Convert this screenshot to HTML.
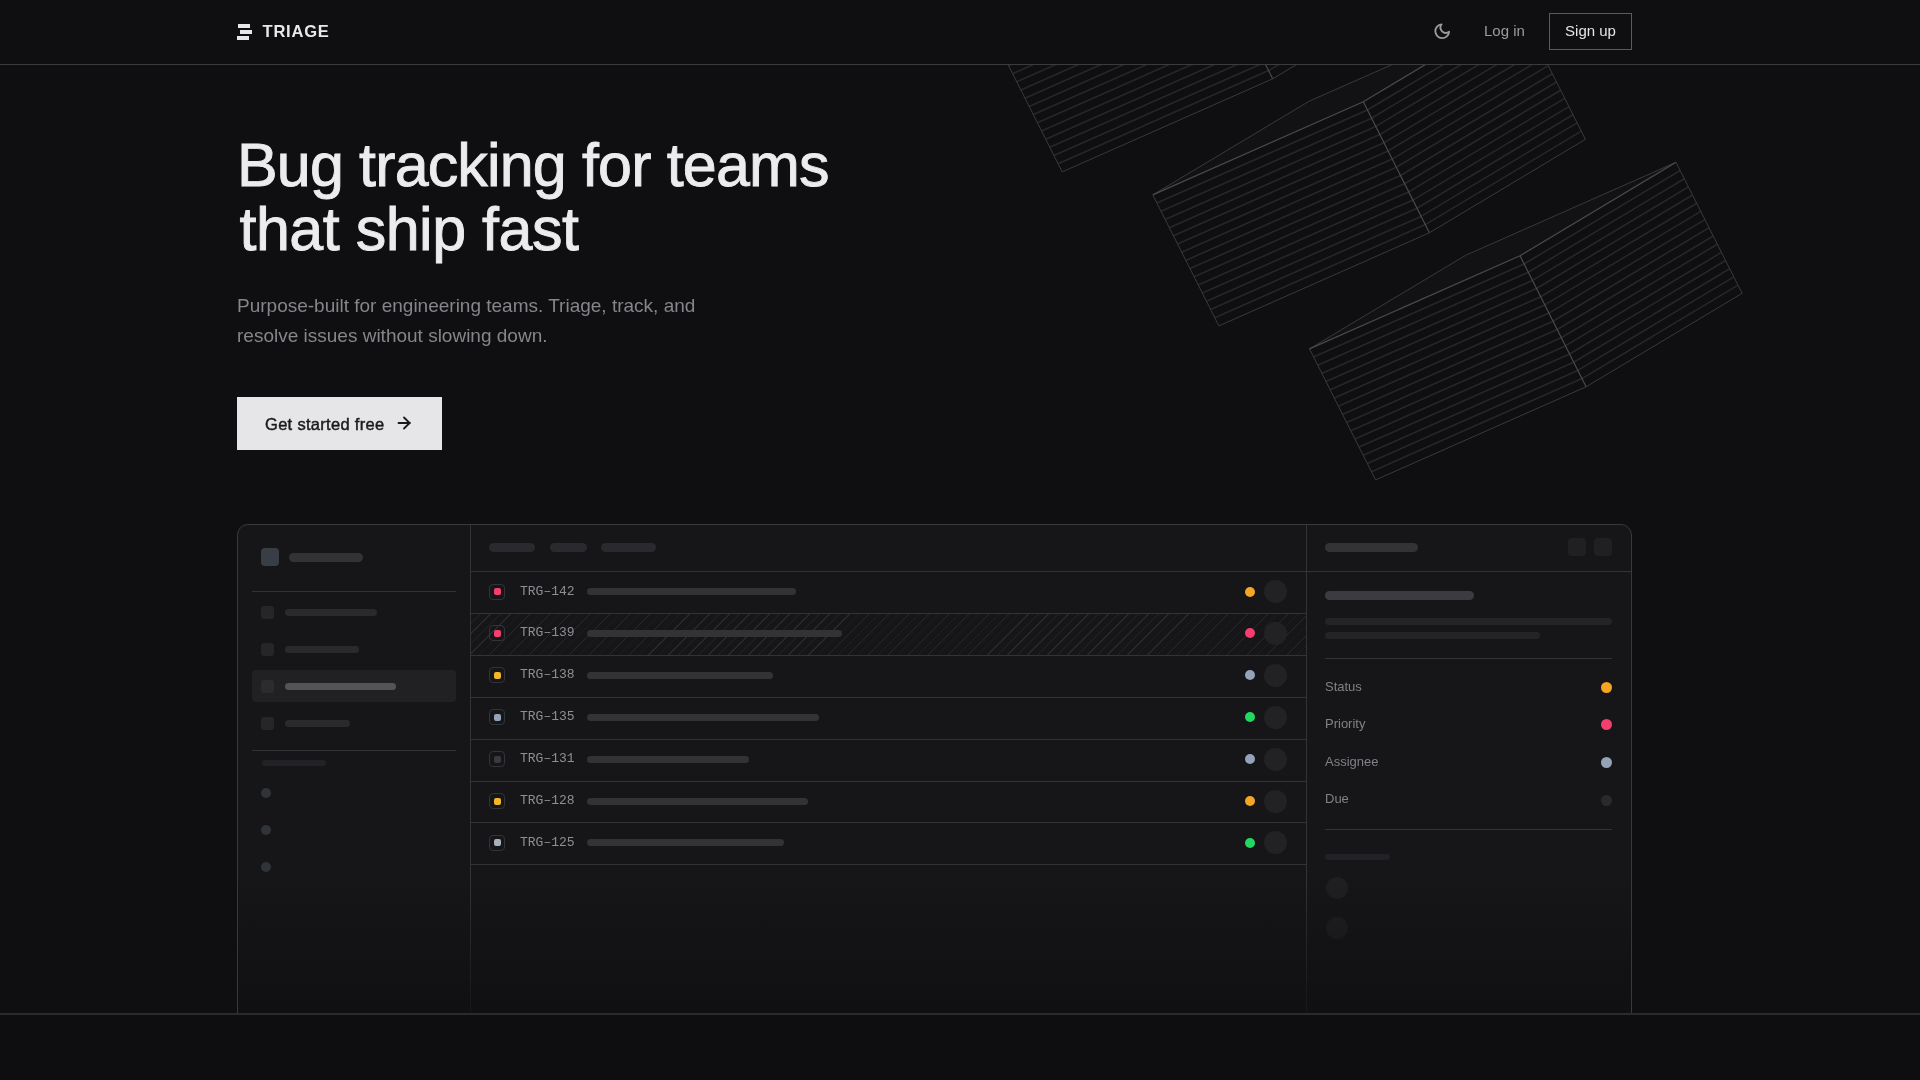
<!DOCTYPE html>
<html><head><meta charset="utf-8">
<style>
*{margin:0;padding:0;box-sizing:border-box}
html,body{width:1920px;height:1080px;overflow:hidden;background:#0f0f11;font-family:"Liberation Sans",sans-serif;color:#e8e8ea}
.abs{position:absolute}
#hdr{position:absolute;left:0;top:0;width:1920px;height:65px;background:#0f0f11;border-bottom:1px solid #3b3b3f;z-index:5}
#boxes{position:absolute;left:0;top:0;width:1920px;height:520px;z-index:1}
.top{fill:#121214}
.face{fill:#0f0f11}
.st{stroke:#27272b;stroke-width:1.6;fill:none}
.e1{stroke:#3a3a3e;stroke-width:1;fill:none}
.e2{stroke:#4a4a4e;stroke-width:1.2;fill:none}
h1{position:absolute;left:237px;top:132.5px;font-size:61px;line-height:64px;font-weight:400;color:#ececee;letter-spacing:-0.85px;white-space:nowrap;z-index:3;-webkit-text-stroke:0.9px #ececee}
.sub{position:absolute;left:237px;top:290.7px;font-size:19px;line-height:30px;color:#85858b;white-space:nowrap;z-index:3}
.cta{position:absolute;left:237px;top:397px;width:205px;height:53px;background:#e6e6e8;color:#1a1a1c;font-size:16px;z-index:3}
.mock{position:absolute;left:237px;top:524px;width:1395px;height:560px;background:#161619;border:1px solid #39393b;border-radius:11px 11px 0 0;z-index:2}
#ml{position:absolute;left:0;top:0;width:1920px;height:1080px;z-index:3}
#ml div{position:absolute}
.bar{border-radius:5px;background:#2a2a2e}
.vl{width:1px;background:#333337}
.hl{height:1px;background:#333337}
.rb{left:471px;width:835px;height:1px;background:#333337}
.hatch{left:471px;width:835px;height:41px;background:repeating-linear-gradient(-45deg,transparent 0 6px,#1e1e21 6px 7px,transparent 7px 13px,#29292c 13px 14.1px)}
.pri{left:489px;width:16px;height:16px;border:1px solid #30353a;border-radius:4px}
.pri i{position:absolute;left:3.5px;top:3.5px;width:7px;height:7px;border-radius:2px}
.tid{left:520px;font-family:"Liberation Mono",monospace;font-size:13px;line-height:18px;color:#8e8e94}
.tb{left:587px;height:7px;background:#333336}
.sdot{left:1244.5px;width:10px;height:10px;border-radius:50%}
.av{left:1263.5px;width:23px;height:23px;border-radius:50%;background:#222225}
.si{left:261px;width:13px;height:13px;border-radius:3px;background:#262629}
.sb{left:285px;height:7px;background:#2a2a2d}
.lbl{left:1325px;font-size:13px;line-height:16px;color:#808086}
.rd{left:1600.5px;width:11px;height:11px;border-radius:50%}
.fade{position:absolute;left:238px;top:880px;width:1393px;height:134px;background:linear-gradient(to bottom,rgba(15,15,17,0),rgba(15,15,17,0.8));z-index:4}
.foot{position:absolute;left:0;top:1013px;width:1920px;height:67px;background:#0e0e10;border-top:2px solid #2b2b2e;z-index:5}
</style></head><body>
<div id="root" style="position:absolute;left:0;top:0;width:1920px;height:1080px;will-change:transform">
<div id="hdr">
  <div class="abs" style="left:238px;top:24px;width:12px;height:4px;background:#e8e8ea"></div>
  <div class="abs" style="left:240px;top:30px;width:12px;height:4px;background:#e8e8ea"></div>
  <div class="abs" style="left:237px;top:36px;width:12px;height:4px;background:#e8e8ea"></div>
  <div class="abs" style="left:262.5px;top:19.9px;font-size:16.5px;font-weight:700;letter-spacing:0.8px;line-height:22px">TRIAGE</div>
  <svg class="abs" style="left:1433px;top:22px" width="18.4" height="18.4" viewBox="0 0 24 24" fill="none" stroke="#9a9a9f" stroke-width="2.4" stroke-linecap="round" stroke-linejoin="round"><path d="M21 12.79A9 9 0 1 1 11.21 3 7 7 0 0 0 21 12.79z"/></svg>
  <div class="abs" style="left:1484px;top:22px;font-size:15px;line-height:18px;color:#9a9a9f">Log in</div>
  <div class="abs" style="left:1549px;top:13px;width:83px;height:37px;border:1px solid #5a5a5e;font-size:15px;line-height:33px;text-align:center;color:#e4e4e6">Sign up</div>
</div>
<svg id="boxes" width="1920" height="520">
<polygon class="top" points="996.1,40.9 1206.6,-52.2 1362.6,-145.7 1152.1,-52.6"/>
<polygon class="face" points="996.1,40.9 1206.6,-52.2 1272.7,78.8 1062.2,171.9"/>
<polygon class="face" points="1206.6,-52.2 1362.6,-145.7 1428.7,-14.7 1272.7,78.8"/>
<path class="st" d="M1000.2,49.1L1210.7,-44.0M1004.4,57.3L1214.9,-35.8M1008.5,65.5L1219.0,-27.6M1012.6,73.7L1223.1,-19.4M1016.8,81.8L1227.3,-11.3M1020.9,90.0L1231.4,-3.1M1025.0,98.2L1235.5,5.1M1029.2,106.4L1239.7,13.3M1033.3,114.6L1243.8,21.5M1037.4,122.8L1247.9,29.7M1041.5,131.0L1252.0,37.9M1045.7,139.2L1256.2,46.1M1049.8,147.3L1260.3,54.2M1053.9,155.5L1264.4,62.4M1058.1,163.7L1268.6,70.6M1210.7,-44.0L1366.7,-137.5M1214.9,-35.8L1370.9,-129.3M1219.0,-27.6L1375.0,-121.1M1223.1,-19.4L1379.1,-112.9M1227.3,-11.3L1383.3,-104.8M1231.4,-3.1L1387.4,-96.6M1235.5,5.1L1391.5,-88.4M1239.6,13.3L1395.6,-80.2M1243.8,21.5L1399.8,-72.0M1247.9,29.7L1403.9,-63.8M1252.0,37.9L1408.0,-55.6M1256.2,46.1L1412.2,-47.4M1260.3,54.2L1416.3,-39.3M1264.4,62.4L1420.4,-31.1M1268.6,70.6L1424.6,-22.9"/>
<path class="e1" d="M996.1,40.9L1062.2,171.9L1272.7,78.8L1428.7,-14.7L1362.6,-145.7L1152.1,-52.6Z"/>
<path class="e2" d="M996.1,40.9L1206.6,-52.2L1362.6,-145.7M1206.6,-52.2L1272.7,78.8"/>
<polygon class="top" points="1152.8,194.9 1363.3,101.8 1519.3,8.3 1308.8,101.4"/>
<polygon class="face" points="1152.8,194.9 1363.3,101.8 1429.4,232.8 1218.9,325.9"/>
<polygon class="face" points="1363.3,101.8 1519.3,8.3 1585.4,139.3 1429.4,232.8"/>
<path class="st" d="M1156.9,203.1L1367.4,110.0M1161.1,211.3L1371.6,118.2M1165.2,219.5L1375.7,126.4M1169.3,227.7L1379.8,134.6M1173.5,235.8L1384.0,142.7M1177.6,244.0L1388.1,150.9M1181.7,252.2L1392.2,159.1M1185.8,260.4L1396.3,167.3M1190.0,268.6L1400.5,175.5M1194.1,276.8L1404.6,183.7M1198.2,285.0L1408.7,191.9M1202.4,293.1L1412.9,200.0M1206.5,301.3L1417.0,208.2M1210.6,309.5L1421.1,216.4M1214.8,317.7L1425.3,224.6M1367.4,110.0L1523.4,16.5M1371.6,118.2L1527.6,24.7M1375.7,126.4L1531.7,32.9M1379.8,134.6L1535.8,41.1M1384.0,142.7L1540.0,49.2M1388.1,150.9L1544.1,57.4M1392.2,159.1L1548.2,65.6M1396.3,167.3L1552.3,73.8M1400.5,175.5L1556.5,82.0M1404.6,183.7L1560.6,90.2M1408.7,191.9L1564.7,98.4M1412.9,200.1L1568.9,106.6M1417.0,208.2L1573.0,114.7M1421.1,216.4L1577.1,122.9M1425.3,224.6L1581.3,131.1"/>
<path class="e1" d="M1152.8,194.9L1218.9,325.9L1429.4,232.8L1585.4,139.3L1519.3,8.3L1308.8,101.4Z"/>
<path class="e2" d="M1152.8,194.9L1363.3,101.8L1519.3,8.3M1363.3,101.8L1429.4,232.8"/>
<polygon class="top" points="1309.5,348.9 1520.0,255.8 1676.0,162.3 1465.5,255.4"/>
<polygon class="face" points="1309.5,348.9 1520.0,255.8 1586.1,386.8 1375.6,479.9"/>
<polygon class="face" points="1520.0,255.8 1676.0,162.3 1742.1,293.3 1586.1,386.8"/>
<path class="st" d="M1313.6,357.1L1524.1,264.0M1317.8,365.3L1528.3,272.2M1321.9,373.5L1532.4,280.4M1326.0,381.6L1536.5,288.5M1330.2,389.8L1540.7,296.7M1334.3,398.0L1544.8,304.9M1338.4,406.2L1548.9,313.1M1342.5,414.4L1553.0,321.3M1346.7,422.6L1557.2,329.5M1350.8,430.8L1561.3,337.7M1354.9,439.0L1565.4,345.9M1359.1,447.1L1569.6,354.0M1363.2,455.3L1573.7,362.2M1367.3,463.5L1577.8,370.4M1371.5,471.7L1582.0,378.6M1524.1,264.0L1680.1,170.5M1528.3,272.2L1684.3,178.7M1532.4,280.4L1688.4,186.9M1536.5,288.5L1692.5,195.0M1540.7,296.7L1696.7,203.2M1544.8,304.9L1700.8,211.4M1548.9,313.1L1704.9,219.6M1553.0,321.3L1709.0,227.8M1557.2,329.5L1713.2,236.0M1561.3,337.7L1717.3,244.2M1565.4,345.9L1721.4,252.4M1569.6,354.0L1725.6,260.5M1573.7,362.2L1729.7,268.7M1577.8,370.4L1733.8,276.9M1582.0,378.6L1738.0,285.1"/>
<path class="e1" d="M1309.5,348.9L1375.6,479.9L1586.1,386.8L1742.1,293.3L1676.0,162.3L1465.5,255.4Z"/>
<path class="e2" d="M1309.5,348.9L1520.0,255.8L1676.0,162.3M1520.0,255.8L1586.1,386.8"/>
</svg>
<h1>Bug tracking for teams<br><span style="margin-left:2.5px;letter-spacing:-0.5px">that ship fast</span></h1>
<div class="sub">Purpose-built for engineering teams. Triage, track, and<br>resolve issues without slowing down.</div>
<div class="cta"><span class="abs" style="left:28px;top:17.6px;line-height:18px;font-size:16.5px;letter-spacing:0.3px;-webkit-text-stroke:0.45px #1a1a1c">Get started free</span>
<svg class="abs" style="left:158px;top:17px" width="20" height="18" viewBox="0 0 20 18" fill="none" stroke="#1a1a1c" stroke-width="1.8" stroke-linecap="round" stroke-linejoin="round"><path d="M3.5 9H15M9 3.5L14.6 9L9 14.5"/></svg></div>
<div class="mock"></div>
<div id="ml">
<!-- column borders -->
<div class="vl" style="left:470px;top:525px;height:489px"></div>
<div class="vl" style="left:1306px;top:525px;height:489px"></div>
<div class="hl" style="left:471px;top:571px;width:835px"></div>
<div class="hl" style="left:1307px;top:571px;width:324px"></div>
<!-- sidebar -->
<div style="left:261px;top:548px;width:18px;height:18px;border-radius:4px;background:#393e46"></div>
<div class="bar" style="left:289px;top:553px;width:74px;height:9px;background:#333336"></div>
<div class="hl" style="left:252px;top:591px;width:204px"></div>
<div class="si" style="top:606px"></div><div class="bar sb" style="top:609px;width:92px"></div>
<div class="si" style="top:643px"></div><div class="bar sb" style="top:646px;width:74px"></div>
<div style="left:252px;top:670px;width:204px;height:32px;border-radius:4px;background:#212124"></div>
<div class="si" style="top:680px;background:#2c2c2f"></div><div class="bar sb" style="top:683px;width:111px;background:#545457"></div>
<div class="si" style="top:717px"></div><div class="bar sb" style="top:720px;width:65px"></div>
<div class="hl" style="left:252px;top:750px;width:204px"></div>
<div class="bar" style="left:262px;top:760px;width:64px;height:6px;background:#222226"></div>
<div style="left:261px;top:787.5px;width:10px;height:10px;border-radius:50%;background:#303337"></div>
<div style="left:261px;top:824.5px;width:10px;height:10px;border-radius:50%;background:#303337"></div>
<div style="left:261px;top:861.5px;width:10px;height:10px;border-radius:50%;background:#303337"></div>
<!-- main header -->
<div class="bar" style="left:489px;top:542.5px;width:46px;height:9px"></div>
<div class="bar" style="left:550px;top:542.5px;width:37px;height:9px"></div>
<div class="bar" style="left:601px;top:542.5px;width:55px;height:9px"></div>
<div class="rb" style="top:612.9px"></div>
<div class="pri" style="top:583.5px"><i style="background:#f43f6e"></i></div>
<div class="tid" style="top:582.5px">TRG–142</div>
<div class="bar tb" style="top:588.0px;width:209px"></div>
<div class="sdot" style="top:586.5px;background:#f5a524"></div>
<div class="av" style="top:580.0px"></div>
<div class="hatch" style="top:613.9px"></div><div class="rb" style="top:654.8px"></div>
<div class="pri" style="top:625.4px"><i style="background:#f43f6e"></i></div>
<div class="tid" style="top:624.4px">TRG–139</div>
<div class="bar tb" style="top:629.9px;width:255px"></div>
<div class="sdot" style="top:628.4px;background:#f43f6e"></div>
<div class="av" style="top:621.9px"></div>
<div class="rb" style="top:696.7px"></div>
<div class="pri" style="top:667.2px"><i style="background:#f5b528"></i></div>
<div class="tid" style="top:666.2px">TRG–138</div>
<div class="bar tb" style="top:671.8px;width:186px"></div>
<div class="sdot" style="top:670.2px;background:#94a3b8"></div>
<div class="av" style="top:663.8px"></div>
<div class="rb" style="top:738.6px"></div>
<div class="pri" style="top:709.2px"><i style="background:#94a3b8"></i></div>
<div class="tid" style="top:708.2px">TRG–135</div>
<div class="bar tb" style="top:713.7px;width:232px"></div>
<div class="sdot" style="top:712.2px;background:#22d862"></div>
<div class="av" style="top:705.7px"></div>
<div class="rb" style="top:780.5px"></div>
<div class="pri" style="top:751.1px"><i style="background:#3a3a3f"></i></div>
<div class="tid" style="top:750.1px">TRG–131</div>
<div class="bar tb" style="top:755.6px;width:162px"></div>
<div class="sdot" style="top:754.1px;background:#94a3b8"></div>
<div class="av" style="top:747.6px"></div>
<div class="rb" style="top:822.4px"></div>
<div class="pri" style="top:793.0px"><i style="background:#f5b528"></i></div>
<div class="tid" style="top:792.0px">TRG–128</div>
<div class="bar tb" style="top:797.5px;width:221px"></div>
<div class="sdot" style="top:796.0px;background:#f5a524"></div>
<div class="av" style="top:789.5px"></div>
<div class="rb" style="top:864.3px"></div>
<div class="pri" style="top:834.9px"><i style="background:#a8b0bc"></i></div>
<div class="tid" style="top:833.9px">TRG–125</div>
<div class="bar tb" style="top:839.4px;width:197px"></div>
<div class="sdot" style="top:837.9px;background:#22d862"></div>
<div class="av" style="top:831.4px"></div>
<!-- right panel -->
<div class="bar" style="left:1325px;top:543px;width:93px;height:9px;background:#333336"></div>
<div style="left:1568px;top:538px;width:18px;height:18px;border-radius:4px;background:#202023"></div>
<div style="left:1594px;top:538px;width:18px;height:18px;border-radius:4px;background:#202023"></div>
<div class="bar" style="left:1325px;top:591px;width:149px;height:9px;background:#3c3c40"></div>
<div class="bar" style="left:1325px;top:618px;width:287px;height:7px;background:#242427"></div>
<div class="bar" style="left:1325px;top:632px;width:215px;height:7px;background:#242427"></div>
<div class="hl" style="left:1325px;top:658px;width:287px"></div>
<div class="lbl" style="top:679.4px">Status</div><div class="rd" style="top:681.5px;background:#f5a524"></div>
<div class="lbl" style="top:716.3px">Priority</div><div class="rd" style="top:719px;background:#f43f6e"></div>
<div class="lbl" style="top:754.4px">Assignee</div><div class="rd" style="top:757px;background:#94a3b8"></div>
<div class="lbl" style="top:791.3px">Due</div><div class="rd" style="top:794.5px;background:#2a2a2e"></div>
<div class="hl" style="left:1325px;top:829px;width:287px"></div>
<div class="bar" style="left:1325px;top:853.5px;width:65px;height:6px;background:#222226"></div>
<div style="left:1325.5px;top:876.5px;width:22px;height:22px;border-radius:50%;background:#1f1f22"></div>
<div style="left:1325.5px;top:916.5px;width:22px;height:22px;border-radius:50%;background:#1f1f22"></div>
</div>
<div class="fade"></div>
<div class="foot"></div>
</div>
</body></html>
